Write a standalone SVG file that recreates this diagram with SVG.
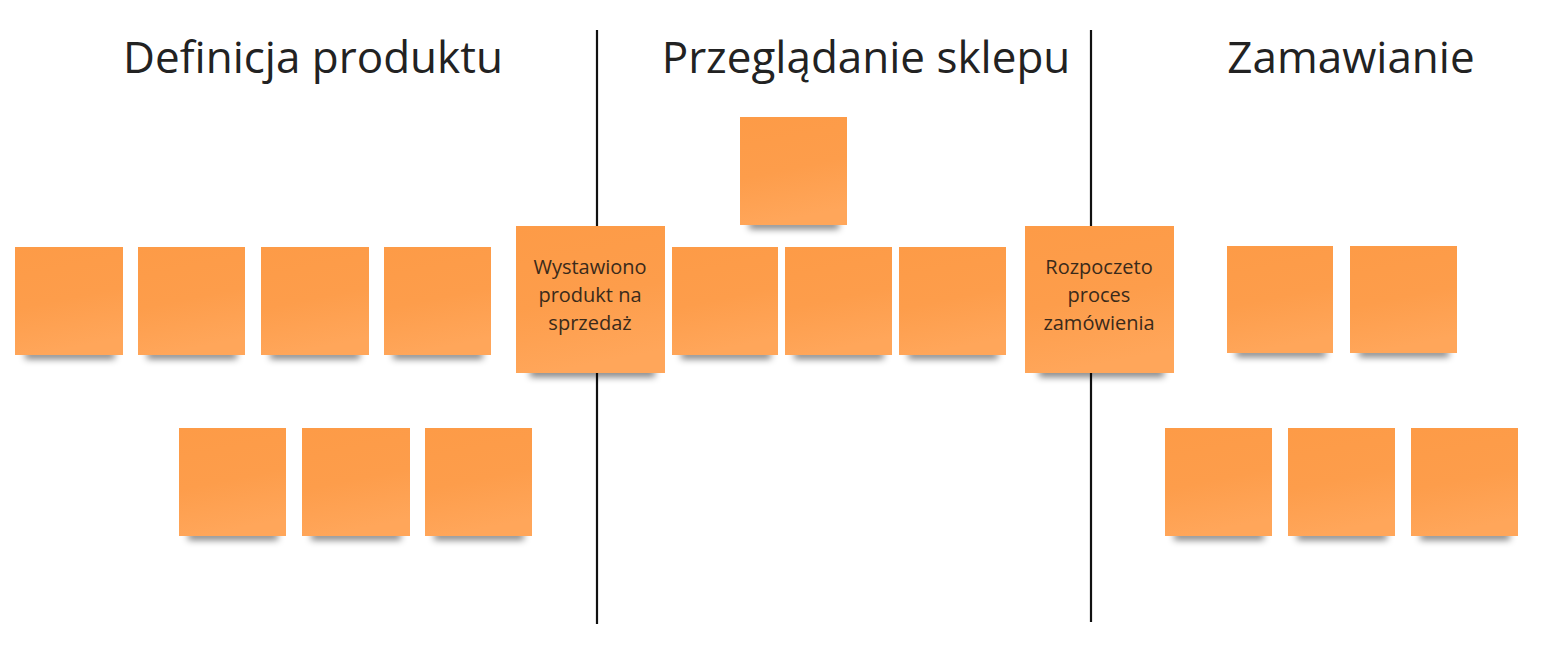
<svg xmlns="http://www.w3.org/2000/svg" width="1549" height="645" viewBox="0 0 1549 645">
<style>
.h{font-family:"Open Sans","Noto Sans","Liberation Sans",sans-serif;font-size:44px;fill:#222;text-anchor:middle}
.t{font-family:"Open Sans","Noto Sans","Liberation Sans",sans-serif;font-size:20px;fill:#3a2a1a;text-anchor:middle}
.n{fill:url(#g)}
.s{fill:#000;opacity:0.5;filter:url(#b)}
.ln{stroke:#111;stroke-width:2.2}
</style>
<defs>
<linearGradient id="g" x1="0" y1="0" x2="0.2" y2="1">
<stop offset="0" stop-color="#FD9B47"/>
<stop offset="0.55" stop-color="#FD9D4B"/>
<stop offset="1" stop-color="#FFA65A"/>
</linearGradient>
<filter id="b" x="-20%" y="-100%" width="140%" height="300%"><feGaussianBlur stdDeviation="3.5"/></filter>
</defs>
<g id="connectors">
<line class="ln" x1="597" y1="30" x2="597" y2="624"/>
<line class="ln" x1="1091" y1="30" x2="1091" y2="622"/>
</g>
<g id="headings">
<text class="h" x="313" y="73">Definicja produktu</text>
<text class="h" x="866" y="73">Przeglądanie sklepu</text>
<text class="h" x="1351" y="73">Zamawianie</text>
</g>
<g id="n1"><rect class="s" x="25" y="351" width="90" height="8"/><rect class="n" x="15" y="247" width="108" height="108"/></g>
<g id="n2"><rect class="s" x="147" y="351" width="90" height="8"/><rect class="n" x="138" y="247" width="107" height="108"/></g>
<g id="n3"><rect class="s" x="270" y="351" width="90" height="8"/><rect class="n" x="261" y="247" width="108" height="108"/></g>
<g id="n4"><rect class="s" x="393" y="351" width="90" height="8"/><rect class="n" x="384" y="247" width="107" height="108"/></g>
<g id="n5"><rect class="s" x="530" y="368" width="125" height="9"/><rect class="n" x="516" y="226" width="149" height="147"/>
<text class="t" x="590" y="274">Wystawiono</text><text class="t" x="590" y="302">produkt na</text><text class="t" x="590" y="330">sprzedaż</text></g>
<g id="n6"><rect class="s" x="681" y="351" width="90" height="8"/><rect class="n" x="672" y="247" width="106" height="108"/></g>
<g id="n7"><rect class="s" x="794" y="351" width="90" height="8"/><rect class="n" x="785" y="247" width="107" height="108"/></g>
<g id="n8"><rect class="s" x="908" y="351" width="90" height="8"/><rect class="n" x="899" y="247" width="107" height="108"/></g>
<g id="n9"><rect class="s" x="749" y="221" width="90" height="8"/><rect class="n" x="740" y="117" width="107" height="108"/></g>
<g id="n10"><rect class="s" x="1039" y="368" width="125" height="9"/><rect class="n" x="1025" y="226" width="149" height="147"/>
<text class="t" x="1099" y="274">Rozpoczeto</text><text class="t" x="1099" y="302">proces</text><text class="t" x="1099" y="330">zamówienia</text></g>
<g id="n11"><rect class="s" x="1236" y="349" width="90" height="8"/><rect class="n" x="1227" y="246" width="106" height="107"/></g>
<g id="n12"><rect class="s" x="1359" y="349" width="90" height="8"/><rect class="n" x="1350" y="246" width="107" height="107"/></g>
<g id="n13"><rect class="s" x="188" y="532" width="90" height="8"/><rect class="n" x="179" y="428" width="107" height="108"/></g>
<g id="n14"><rect class="s" x="311" y="532" width="90" height="8"/><rect class="n" x="302" y="428" width="108" height="108"/></g>
<g id="n15"><rect class="s" x="434" y="532" width="90" height="8"/><rect class="n" x="425" y="428" width="107" height="108"/></g>
<g id="n16"><rect class="s" x="1174" y="532" width="90" height="8"/><rect class="n" x="1165" y="428" width="107" height="108"/></g>
<g id="n17"><rect class="s" x="1297" y="532" width="90" height="8"/><rect class="n" x="1288" y="428" width="107" height="108"/></g>
<g id="n18"><rect class="s" x="1420" y="532" width="90" height="8"/><rect class="n" x="1411" y="428" width="107" height="108"/></g>
</svg>
